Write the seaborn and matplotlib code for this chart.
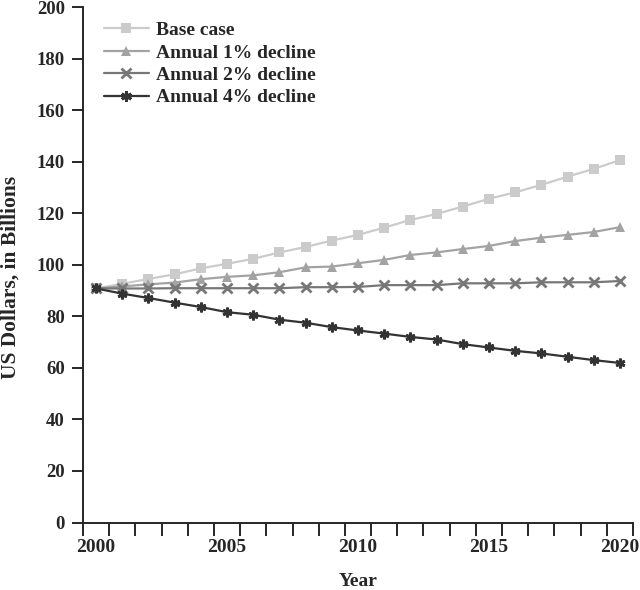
import numpy as np
import pandas as pd
import matplotlib
matplotlib.use('Agg')
import matplotlib.pyplot as plt
import seaborn as sns
from matplotlib.ticker import MultipleLocator

# ── Data ─────────────────────────────────────────────────────────────────────
YEARS = list(range(2000, 2021))
BASE_CASE = [90.8, 92.6, 94.5, 96.3, 98.6, 100.4, 102.3, 104.8, 106.9, 109.4, 111.6,
             114.4, 117.4, 119.7, 122.6, 125.6, 128.1, 131.0, 134.2, 137.2, 140.6]
DECLINE_1 = [90.8, 91.6, 92.4, 93.1, 94.4, 95.3, 95.9, 97.1, 99.0, 99.3, 100.6,
             101.9, 103.8, 104.8, 106.1, 107.3, 109.2, 110.5, 111.6, 112.7, 114.6]
DECLINE_2 = [90.8, 90.8, 90.8, 90.9, 90.9, 90.9, 90.9, 90.9, 91.3, 91.3, 91.4,
             92.1, 92.1, 92.1, 92.8, 92.8, 92.8, 93.2, 93.2, 93.2, 93.7]
DECLINE_4 = [90.8, 88.8, 87.1, 85.3, 83.6, 81.6, 80.6, 78.7, 77.5, 75.8, 74.5,
             73.3, 72.0, 71.0, 69.2, 67.9, 66.6, 65.6, 64.3, 63.0, 61.9]
SERIES = ['Base case', 'Annual 1% decline', 'Annual 2% decline', 'Annual 4% decline']

COLORS  = ['#cbcbcb', '#a3a3a3', '#777777', '#333333']
MARKERS = ['s', '^', 'x', (6, 2, 0)]

df = pd.DataFrame({
    'Year': YEARS * 4,
    'Value': BASE_CASE + DECLINE_1 + DECLINE_2 + DECLINE_4,
    'Scenario': np.repeat(SERIES, len(YEARS)),
})

# ── Plot ─────────────────────────────────────────────────────────────────────
sns.set_style('ticks')
plt.rcParams['font.family'] = ['Liberation Serif', 'DejaVu Serif']
plt.rcParams['font.weight'] = 'bold'

fig = plt.figure(figsize=(6.4, 5.9), dpi=100)
ax = fig.add_axes([0.1297, 0.1144, 0.8594, 0.8737])

for name, col, mk in zip(SERIES, COLORS, MARKERS):
    sub = df[df['Scenario'] == name]
    sns.lineplot(data=sub, x='Year', y='Value', ax=ax, color=col, marker=mk,
                 markersize=7, markeredgewidth=2 if mk in ('x', (6, 2, 0)) else 0,
                 markeredgecolor=col, linewidth=1.6, label=name)

ax.set_xlim(1999.5, 2020.5)
ax.set_ylim(0, 200)
ax.set_xticks([2000, 2005, 2010, 2015, 2020])
ax.set_xticks(np.arange(1999.5, 2021, 1), minor=True)
ax.tick_params(axis='x', which='major', length=0, pad=12, labelsize=14)
ax.tick_params(axis='x', which='minor', length=9, width=1.4, direction='out')
ax.yaxis.set_major_locator(MultipleLocator(20))
ax.tick_params(axis='y', length=8, width=1.4, direction='out', labelsize=13.5, pad=5)
for lab in ax.get_xticklabels() + ax.get_yticklabels():
    lab.set_fontweight('bold')

sns.despine(ax=ax)
ax.spines['left'].set_linewidth(1.4)
ax.spines['bottom'].set_linewidth(1.4)

ax.set_xlabel('Year', fontsize=14, fontweight='bold', labelpad=12)
ax.set_ylabel('US Dollars, in Billions', fontsize=15.5, fontweight='bold')
ax.yaxis.set_label_coords(-0.114, 0.475)

leg = ax.legend(loc='upper left', bbox_to_anchor=(0.006, 1.006), frameon=False,
                prop={'size': 14, 'weight': 'bold'}, handlelength=2.3,
                labelspacing=0.25, handletextpad=0.4, markerscale=1.1)

fig.savefig('out.png', dpi=100)
